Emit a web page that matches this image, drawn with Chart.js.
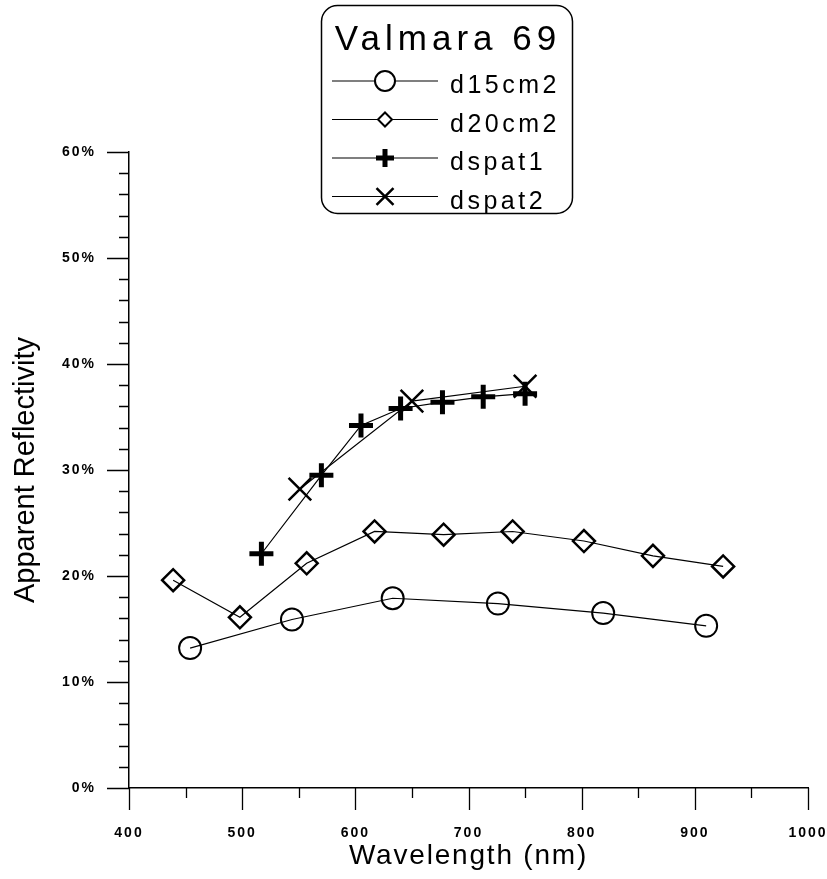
<!DOCTYPE html>
<html>
<head>
<meta charset="utf-8">
<title>Valmara 69</title>
<script src="https://cdn.jsdelivr.net/npm/chart.js@4.4.1/dist/chart.umd.min.js"></script>
<style>
  body { margin: 0; background: #fff; }
  #wrap { width: 827px; height: 879px; position: relative; }
</style>
</head>
<body>
<div id="wrap"><canvas id="refChart"></canvas></div>
<script>
// values (wavelength in nm, reflectivity in %)
const seriesNames = ["d15cm2", "d20cm2", "dspat1", "dspat2"];
const d15Wave = [454, 544, 633, 726, 819, 910];
const d15Refl = [13.2, 15.9, 17.9, 17.4, 16.5, 15.3];
const d20Wave = [439, 498, 557, 617, 678, 739, 802, 863, 925];
const d20Refl = [19.6, 16.1, 21.2, 24.2, 23.9, 24.2, 23.3, 21.9, 20.9];
const spat1Wave = [517, 570, 605, 640, 677, 713, 750];
const spat1Refl = [22.1, 29.5, 34.2, 35.8, 36.4, 36.9, 37.2];
const spat2Wave = [551, 650, 750];
const spat2Refl = [28.2, 36.5, 37.9];
const legendTitle = "Valmara 69";

function toPoints(xs, ys) {
  return xs.map((x, i) => ({ x: x, y: ys[i] }));
}

// draw a marker by hand for the legend box
function drawMarker(ctx, style, x, y, r, lw) {
  ctx.save();
  ctx.lineWidth = lw;
  ctx.strokeStyle = "#000";
  ctx.fillStyle = "#fff";
  ctx.beginPath();
  if (style === "circle") {
    ctx.arc(x, y, r, 0, Math.PI * 2);
    ctx.fill();
  } else if (style === "rectRot") {
    ctx.moveTo(x - r, y);
    ctx.lineTo(x, y - r);
    ctx.lineTo(x + r, y);
    ctx.lineTo(x, y + r);
    ctx.closePath();
    ctx.fill();
  } else if (style === "cross") {
    ctx.moveTo(x - r, y); ctx.lineTo(x + r, y);
    ctx.moveTo(x, y - r); ctx.lineTo(x, y + r);
  } else {
    const d = r * Math.SQRT1_2;
    ctx.moveTo(x - d, y - d); ctx.lineTo(x + d, y + d);
    ctx.moveTo(x - d, y + d); ctx.lineTo(x + d, y - d);
  }
  ctx.stroke();
  ctx.restore();
}

// the original uses letter-spaced labels, chart.js has no option for it
function spaceOut(scale, labelGap, titleGap) {
  if (scale._spaced) return;
  scale._spaced = true;
  const drawLabels = scale.drawLabels;
  const drawTitle = scale.drawTitle;
  scale.drawLabels = function (area) {
    this.ctx.save();
    this.ctx.letterSpacing = labelGap;
    drawLabels.call(this, area);
    this.ctx.restore();
  };
  scale.drawTitle = function (area) {
    this.ctx.save();
    this.ctx.letterSpacing = titleGap;
    drawTitle.call(this, area);
    this.ctx.restore();
  };
}

const spacedText = {
  id: "spacedText",
  beforeDraw(chart) {
    spaceOut(chart.scales.x, "2px", "1.8px");
    spaceOut(chart.scales.y, "2px", "0px");
  }
};

// short ticks every step, long ones on labelled values
const axisTicks = {
  id: "axisTicks",
  afterDraw(chart) {
    const ctx = chart.ctx;
    const area = chart.chartArea;
    const xs = chart.scales.x;
    const ys = chart.scales.y;
    ctx.save();
    ctx.strokeStyle = "#000";
    ctx.lineWidth = 1.3;
    ctx.beginPath();
    xs.ticks.forEach(t => {
      const px = Math.round(xs.getPixelForValue(t.value)) + 0.5;
      const len = t.value % 100 === 0 ? 22 : 10;
      ctx.moveTo(px, area.bottom);
      ctx.lineTo(px, area.bottom + len);
    });
    ys.ticks.forEach(t => {
      const py = Math.round(ys.getPixelForValue(t.value)) + 0.5;
      const len = t.value % 10 === 0 ? 22 : 10;
      ctx.moveTo(area.left, py);
      ctx.lineTo(area.left - len, py);
    });
    ctx.stroke();
    ctx.restore();
  }
};

// rounded legend box with title, like the original
const boxLegend = {
  id: "boxLegend",
  afterDraw(chart) {
    const ctx = chart.ctx;
    ctx.save();
    ctx.strokeStyle = "#000";
    ctx.lineWidth = 1.5;
    ctx.beginPath();
    ctx.roundRect(321.5, 5.5, 251, 208, 16);
    ctx.stroke();

    ctx.fillStyle = "#000";
    ctx.textAlign = "center";
    ctx.textBaseline = "alphabetic";
    ctx.font = "35px 'Liberation Sans', Arial, sans-serif";
    ctx.letterSpacing = "5px";
    ctx.fillText(legendTitle, 448, 50);

    ctx.textAlign = "left";
    ctx.font = "25px 'Liberation Sans', Arial, sans-serif";
    ctx.letterSpacing = "3.5px";
    chart.data.datasets.forEach((ds, i) => {
      const y = 81 + i * 38.5;
      ctx.lineWidth = 1.2;
      ctx.beginPath();
      ctx.moveTo(332, y);
      ctx.lineTo(438, y);
      ctx.stroke();
      drawMarker(ctx, ds.pointStyle, 385, y, ds.legendRadius, ds.legendWidth);
      ctx.fillText(ds.label, 450, y + 12);
    });
    ctx.restore();
  }
};

document.addEventListener("DOMContentLoaded", () => {
  const ctx = document.getElementById("refChart").getContext("2d");

  const datasets = [
    { label: seriesNames[0], data: toPoints(d15Wave, d15Refl), pointStyle: "circle",
      pointRadius: 11, pointBorderWidth: 2, legendRadius: 10, legendWidth: 2 },
    { label: seriesNames[1], data: toPoints(d20Wave, d20Refl), pointStyle: "rectRot",
      pointRadius: 11, pointBorderWidth: 2.5, legendRadius: 7, legendWidth: 2 },
    { label: seriesNames[2], data: toPoints(spat1Wave, spat1Refl), pointStyle: "cross",
      pointRadius: 12, pointBorderWidth: 5, legendRadius: 9, legendWidth: 5 },
    { label: seriesNames[3], data: toPoints(spat2Wave, spat2Refl), pointStyle: "crossRot",
      pointRadius: 16, pointBorderWidth: 2.5, legendRadius: 12, legendWidth: 2.5 }
  ].map(ds => Object.assign({
    borderColor: "#000",
    borderWidth: 1.2,
    pointBorderColor: "#000",
    pointBackgroundColor: "rgba(0,0,0,0)",
    fill: false,
    tension: 0
  }, ds));

  const tickFont = { family: "'Liberation Sans', Arial, sans-serif", size: 14, weight: "bold" };

  new Chart(ctx, {
    type: "line",
    data: { datasets: datasets },
    plugins: [spacedText, axisTicks, boxLegend],
    options: {
      responsive: true,
      maintainAspectRatio: false,
      animation: false,
      layout: { padding: { top: 152, right: 19, bottom: 0, left: 0 } },
      plugins: {
        legend: { display: false },
        tooltip: { enabled: false }
      },
      scales: {
        x: {
          type: "linear",
          min: 400,
          max: 1000,
          afterFit: (s) => { s.height = 91; s.paddingLeft = 0; s.paddingRight = 0; },
          grid: { display: true, drawOnChartArea: false, drawTicks: false },
          border: { display: true, color: "#000", width: 1.5 },
          ticks: {
            stepSize: 50,
            autoSkip: false,
            maxRotation: 0,
            padding: 37,
            color: "#000",
            font: tickFont,
            callback: (v) => (v % 100 === 0 ? String(v) : "")
          },
          title: {
            display: true,
            text: "Wavelength (nm)",
            color: "#000",
            padding: { top: 0, bottom: 6 },
            font: { family: "'Liberation Sans', Arial, sans-serif", size: 28 }
          }
        },
        y: {
          min: 0,
          max: 60,
          afterFit: (s) => { s.width = 129; s.paddingTop = 0; s.paddingBottom = 0; },
          grid: { display: true, drawOnChartArea: false, drawTicks: false },
          border: { display: true, color: "#000", width: 1.5 },
          ticks: {
            stepSize: 2,
            autoSkip: false,
            padding: 33,
            color: "#000",
            font: tickFont,
            callback: (v) => (v % 10 === 0 ? v + "%" : "")
          },
          title: {
            display: true,
            text: "Apparent Reflectivity",
            color: "#000",
            padding: { top: 9, bottom: 0 },
            font: { family: "'Liberation Sans', Arial, sans-serif", size: 29 }
          }
        }
      }
    }
  });
});
</script>
</body>
</html>
